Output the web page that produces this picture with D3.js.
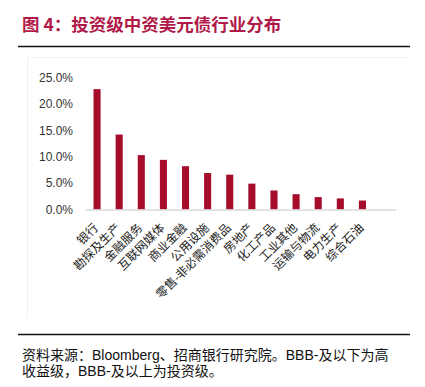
<!DOCTYPE html>
<html>
<head>
<meta charset="UTF-8"/>
<script src="https://cdn.jsdelivr.net/npm/d3@7"></script>
<style>
body { margin: 0; background: #fff; }
svg { display: block; }
.tick text { font-family: 'Liberation Sans', Arial, sans-serif; font-size: 12px; fill: #333; }
.cat { font-family: 'Noto Sans CJK SC', sans-serif; font-size: 12px; fill: #222; }
</style>
</head>
<body>
<svg width="425" height="387"></svg>
<script>
const categories = ['银行', '勘探及生产', '金融服务', '互联网媒体', '商业金融', '公用设施',
  '零售-非必需消费品', '房地产', '化工产品', '工业其他', '运输与物流', '电力生产', '综合石油'];
const shares = [22.8, 14.2, 10.3, 9.4, 8.2, 6.9, 6.6, 4.9, 3.6, 2.9, 2.35, 2.1, 1.7];
const yTicks = [0, 5, 10, 15, 20, 25];

const svg = d3.select('svg');

// title + rules
svg.append('text')
  .attr('x', 22).attr('y', 31)
  .attr('font-family', "'Noto Sans CJK SC', sans-serif")
  .attr('font-size', 17.5).attr('font-weight', 700)
  .attr('fill', '#b01a48')
  .text('图 4：投资级中资美元债行业分布');

svg.append('line').attr('x1', 18).attr('x2', 410).attr('y1', 46.5).attr('y2', 46.5)
  .attr('stroke', '#111').attr('stroke-width', 1.6);
svg.append('line').attr('x1', 18).attr('x2', 410).attr('y1', 334.5).attr('y2', 334.5)
  .attr('stroke', '#111').attr('stroke-width', 1.4);

// faint frame of the embedded chart
svg.append('path').attr('d', 'M27.5,318 V57.5 H410')
  .attr('fill', 'none').attr('stroke', '#f0f0f0');

const x = d3.scaleBand().domain(categories).range([86, 373.5]).paddingInner(0.68).paddingOuter(0.34);
const y = d3.scaleLinear().domain([0, 25]).range([209.5, 77.5]);

const yAxis = svg.append('g')
  .attr('transform', 'translate(86,0)')
  .call(d3.axisLeft(y).tickValues(yTicks).tickSize(0).tickPadding(13)
    .tickFormat(d => d.toFixed(1) + '%'));
yAxis.select('.domain').remove();

svg.append('g').selectAll('rect')
  .data(shares)
  .join('rect')
  .attr('x', (d, i) => x(categories[i]))
  .attr('width', x.bandwidth())
  .attr('y', d => y(d))
  .attr('height', d => y(0) - y(d))
  .attr('fill', '#a50d2a');

svg.append('line')
  .attr('x1', 86).attr('x2', 396)
  .attr('y1', y(0) + 0.5).attr('y2', y(0) + 0.5)
  .attr('stroke', '#d9d9d9').attr('stroke-width', 1.5);

svg.append('g').selectAll('text')
  .data(categories)
  .join('text')
  .attr('class', 'cat')
  .attr('text-anchor', 'end')
  .attr('transform', d => `translate(${x(d) + x.bandwidth() / 2 + 2},${y(0) + 19}) rotate(-45)`)
  .text(d => d);

// footer
const foot = svg.append('text')
  .attr('font-family', "'Liberation Sans', 'Noto Sans CJK SC', sans-serif")
  .attr('font-size', 14).attr('fill', '#111');
foot.append('tspan').attr('x', 22).attr('y', 360).text('资料来源：Bloomberg、招商银行研究院。BBB-及以下为高');
foot.append('tspan').attr('x', 22).attr('y', 376).text('收益级，BBB-及以上为投资级。');
</script>
</body>
</html>
